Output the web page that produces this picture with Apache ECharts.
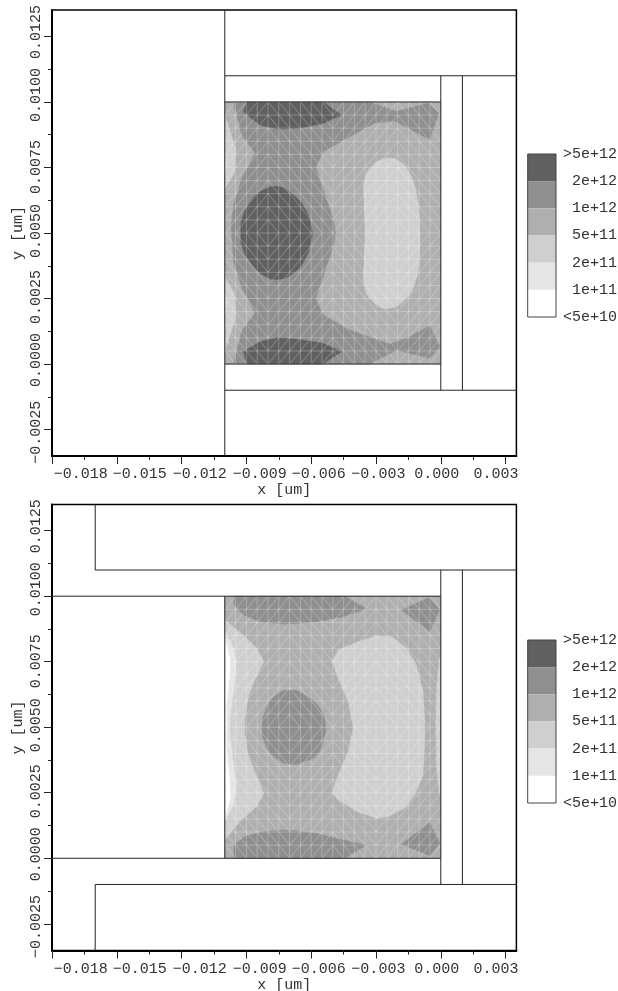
<!DOCTYPE html>
<html><head><meta charset="utf-8">
<style>html,body{margin:0;padding:0;background:#fff}#c{width:618px;height:991px}</style>
<script src="https://cdn.jsdelivr.net/npm/echarts@6/dist/echarts.min.js"></script>
</head><body><div id="c"></div>
<script>
// Axis ticks and labels (um)
const xMajorTicks=[-0.018,-0.015,-0.012,-0.009,-0.006,-0.003,0,0.003];
const xMinorTicks=[-0.0165,-0.0135,-0.0105,-0.0075,-0.0045,-0.0015,0.0015];
const xTickLabels=['−0.018','−0.015','−0.012','−0.009','−0.006','−0.003','0.000','0.003'];
const xLabelCenters=[-0.01667,-0.01394,-0.01116,-0.00838,-0.00565,-0.00289,-0.00019,0.00255];
const yMajorTicks=[-0.0025,0,0.0025,0.005,0.0075,0.01,0.0125];
const yMinorTicks=[-0.00125,0.00125,0.00375,0.00625,0.00875,0.01125];
const yTickLabels=['−0.0025','0.0000','0.0025','0.0050','0.0075','0.0100','0.0125'];
const yLabelCenters=[-0.0026,0.00015,0.00256,0.00508,0.00752,0.01027,0.01267];
// Legend
const legendLabels=['>5e+12','2e+12','1e+12','5e+11','2e+11','1e+11','<5e+10'];
const legendColors=['#5f615e','#8f8f8f','#b0aeb0','#cfcfcf','#e5e5e5','#ffffff'];
const [c5e12,c2e12,c1e12,c5e11,c2e11,c1e11]=legendColors;
// Device outlines, in 1e-3 um: [x1,y1,x2,y2]
const structure1=[[-10,-3.51,-10,13.51],[-10,11,3.5,11],[-10,-1,3.5,-1],[-10,10,0,10],[-10,0,0,0],[0,-1,0,11],[1,-1,1,11]];
const structure2=[[-16,11,-16,13.5],[-16,-1,-16,-3.52],[-16,11,3.5,11],[-16,-1,3.5,-1],[-18,10,0,10],[-18,0,0,0],[-10,0,-10,10],[0,-1,0,11],[1,-1,1,11]];
// Mesh
const meshX=[-10,-9.5,-9,-8.5,-8,-7.5,-7,-6.5,-6,-5.5,-5,-4.5,-4,-3.5,-3,-2.5,-2,-1.5,-1,-0.5,0];
const meshY=[0,0.5,1,1.5,2,2.5,3,3.5,4,4.5,5,5.5,6,6.5,7,7.5,8,8.5,9,9.5,10];
const meshCenters1=[-8,-2], meshCenters2=[-7,-3], meshCenterY=5, meshSplitX=-5;
// Contours, plot 1 (top), in 1e-3 um
const p1Base=[[-10,0],[0,0],[0,10],[-10,10]];
const p1Level2=[[-9.6,9.96],[-9.21,8.74],[-8.6,8.05],[-9.21,7.1],[-9.6,6.07],[-9.7,5.3],[-9.68,4.92],[-9.6,3.93],[-9.21,2.9],[-8.6,1.95],[-9.21,1.26],[-9.6,0.04],[-3.29,0],[-2.05,0.53],[-0.51,0.22],[-0.05,0.66],[-0.51,1.46],[-1.59,0.98],[-2.36,0.76],[-4.21,1.3],[-5.45,1.87],[-5.79,2.5],[-4.98,4.48],[-4.86,5],[-4.98,5.52],[-5.79,7.5],[-5.45,8.1],[-4.21,8.68],[-3.05,9.2],[-2.13,9.27],[-0.51,8.56],[-0.09,9.58],[-0.59,9.96],[-2.05,9.64],[-3.29,10]];
const p1LensTop=[[-8.97,10],[-5.45,10],[-4.6,9.5],[-5.45,9.18],[-6.53,9],[-7.53,8.96],[-8.38,9.12],[-9.15,9.63]];
const p1LensBottom=[[-9.15,0.47],[-8.38,0.85],[-7.53,1.02],[-6.53,0.94],[-5.45,0.79],[-4.6,0.47],[-5.45,0],[-8.97,0]];
const p1Oval=[[-7.53,6.77],[-6.84,6.45],[-6.3,5.94],[-5.99,5.24],[-5.99,4.73],[-6.3,3.97],[-6.84,3.46],[-7.53,3.23],[-8.23,3.4],[-8.77,3.84],[-9.15,4.35],[-9.26,5],[-9.15,5.69],[-8.77,6.26],[-8.23,6.64]];
const p1Island=[[-2.44,7.85],[-1.9,7.72],[-1.44,7.28],[-1.13,6.51],[-1,5.62],[-1,3.97],[-1.2,3.08],[-1.59,2.51],[-2.44,2.12],[-3.13,2.38],[-3.52,2.95],[-3.55,3.97],[-3.49,5],[-3.55,6.13],[-3.52,7.02],[-3.13,7.6]];
const p1StripTop=[[-10,9.55],[-9.7,8.75],[-9.5,8.25],[-9.55,7.3],[-9.9,6.8],[-10,6.6]];
const p1StripBottom=[[-10,3.4],[-9.9,3.2],[-9.55,2.7],[-9.5,1.75],[-9.7,1.25],[-10,0.45]];
const p1SliverTop=[[-10,8.1],[-9.9,7.7],[-10,7.1]];
const p1SliverBottom=[[-10,2.9],[-9.9,2.3],[-10,1.9]];
// Contours, plot 2 (bottom)
const p2Base=[[-10,0],[0,0],[0,10],[-10,10]];
const p2Left=[[-10,9.1],[-9.15,8.52],[-8.53,8.02],[-8.19,7.51],[-8.61,6.81],[-8.92,6.11],[-9.07,5.34],[-9.07,4.71],[-8.92,3.94],[-8.61,3.31],[-8.19,2.48],[-8.53,1.97],[-9.31,1.4],[-10,0.7]];
const p2LeftLight=[[-10,8.65],[-9.6,8.02],[-9.46,7.51],[-9.58,6.49],[-9.77,5.34],[-9.77,4.71],[-9.58,3.44],[-9.46,2.8],[-9.6,2.04],[-10,1.4]];
const p2LeftWhite=[[-10,8.4],[-9.75,7.6],[-9.78,7],[-9.92,5.8],[-9.92,4.2],[-9.78,3],[-9.75,2.3],[-10,1.5]];
const p2Island=[[-2.98,8.49],[-2.28,8.46],[-1.59,8.02],[-1.13,7.38],[-0.82,6.36],[-0.74,5.22],[-0.74,4.45],[-0.82,3.18],[-1.2,2.42],[-1.67,1.91],[-2.44,1.59],[-2.98,1.53],[-3.9,1.78],[-4.75,2.23],[-5.03,2.52],[-4.75,3.18],[-4.29,4.07],[-4.06,4.96],[-4.29,5.98],[-4.75,6.87],[-5.03,7.51],[-4.75,7.95],[-3.9,8.24]];
const p2RightStrip=[[-0.08,7.51],[-0.2,6.5],[-0.23,5],[-0.2,3.45],[-0.08,2.54],[0,2.3],[0,7.8]];
const p2LensTop=[[-9.58,10],[-4.44,10],[-3.44,9.52],[-4.52,9.22],[-5.76,9.03],[-7.07,8.93],[-8.38,9.03],[-9.15,9.29],[-9.58,9.67]];
const p2LensBottom=[[-9.58,0],[-9.58,0.51],[-9.07,0.83],[-8.23,1.02],[-7.07,1.08],[-5.76,0.95],[-4.52,0.7],[-3.44,0.51],[-4.44,0]];
const p2CornerTop=[[-0.54,9.95],[-0.05,9.48],[-0.51,8.65],[-1.82,9.48]];
const p2CornerBottom=[[-0.51,1.37],[-0.05,0.57],[-0.51,0.1],[-1.82,0.53]];
const p2Oval=[[-6.99,6.42],[-6.3,6.23],[-5.6,5.73],[-5.34,5.09],[-5.45,4.45],[-5.76,3.94],[-6.3,3.69],[-6.99,3.59],[-7.61,3.82],[-8.07,4.26],[-8.27,4.96],[-8.07,5.73],[-7.61,6.23]];

const regions1=[[p1Base,c1e12],[p1StripTop,c5e11],[p1StripBottom,c5e11],[p1SliverTop,c2e11],[p1SliverBottom,c2e11],[p1Level2,c2e12],[p1LensTop,c5e12],[p1LensBottom,c5e12],[p1Oval,c5e12,0.5],[p1Island,c5e11,0.5]];
const regions2=[[p2Base,c1e12],[p2Left,c5e11],[p2LeftLight,c2e11],[p2LeftWhite,c1e11],[p2Island,c5e11],[p2RightStrip,c5e11],[p2LensTop,c2e12],[p2LensBottom,c2e12],[p2CornerTop,c2e12],[p2CornerBottom,c2e12],[p2Oval,c2e12,0.5]];

const U=1e-3, FONT='"Liberation Mono"', TXT='#333';
function meshSegments(centers){
  const s=[];
  meshX.forEach(x=>s.push([x,meshY[0],x,meshY[meshY.length-1]]));
  meshY.forEach(y=>s.push([meshX[0],y,meshX[meshX.length-1],y]));
  for(let i=0;i<meshX.length-1;i++)for(let j=0;j<meshY.length-1;j++){
    const cx=(meshX[i]+meshX[i+1])/2, cy=(meshY[j]+meshY[j+1])/2;
    const c=cx<meshSplitX?centers[0]:centers[1];
    if((cx-c)*(cy-meshCenterY)>0) s.push([meshX[i],meshY[j+1],meshX[i+1],meshY[j]]);
    else s.push([meshX[i],meshY[j],meshX[i+1],meshY[j+1]]);
  }
  return s;
}
function regionSeries(regions,ax){
  return {type:'custom',xAxisIndex:ax,yAxisIndex:ax,silent:true,clip:false,z:3,
    data:regions.map((r,i)=>[i,0]),
    renderItem:(p,api)=>{const r=regions[api.value(0)];
      return {type:'polygon',shape:{points:r[0].map(q=>api.coord([q[0]*U,q[1]*U])),smooth:r[2]||0},style:{fill:r[1],stroke:r[1],lineWidth:0.4}};}};
}
function segmentSeries(segs,ax,style,z){
  return {type:'custom',xAxisIndex:ax,yAxisIndex:ax,silent:true,clip:false,z:z,
    data:segs.map((s,i)=>[i,0]),
    renderItem:(p,api)=>{const s=segs[api.value(0)],a=api.coord([s[0]*U,s[1]*U]),b=api.coord([s[2]*U,s[3]*U]);
      return {type:'line',shape:{x1:a[0],y1:a[1],x2:b[0],y2:b[1]},style:style};}};
}
function nearest(arr,v){let k=0;arr.forEach((a,i)=>{if(Math.abs(a-v)<Math.abs(arr[k]-v))k=i});return k;}
const txt={fontFamily:FONT,fontSize:15,color:TXT};
function xMain(gi){return {type:'value',gridIndex:gi,min:-0.018,max:0.0035,position:'bottom',splitLine:{show:false},
  axisLine:{show:true,onZero:false,lineStyle:{color:'#000',width:2}},
  axisTick:{show:true,customValues:xMajorTicks,length:8,lineStyle:{color:'#222',width:1}},
  axisLabel:{show:true,customValues:xLabelCenters,margin:11,...txt,formatter:v=>xTickLabels[nearest(xLabelCenters,v)]},
  name:'x [um]',nameLocation:'middle',nameGap:27,nameTextStyle:{...txt}};}
function xMinor(gi){return {type:'value',gridIndex:gi,min:-0.018,max:0.0035,position:'bottom',splitLine:{show:false},
  axisLine:{show:false,onZero:false},axisTick:{show:true,customValues:xMinorTicks,length:4,lineStyle:{color:'#222',width:1}},axisLabel:{show:false}};}
function yMain(gi,mn,mx){return {type:'value',gridIndex:gi,min:mn,max:mx,position:'left',splitLine:{show:false},
  axisLine:{show:true,onZero:false,lineStyle:{color:'#000',width:2}},
  axisTick:{show:true,customValues:yMajorTicks,length:8,lineStyle:{color:'#222',width:1}},
  axisLabel:{show:true,customValues:yLabelCenters,rotate:90,margin:8,...txt,formatter:v=>yTickLabels[nearest(yLabelCenters,v)]},
  name:'y [um]',nameLocation:'middle',nameGap:26,nameRotate:90,nameMoveOverlap:false,nameTextStyle:{...txt}};}
function yMinor(gi,mn,mx){return {type:'value',gridIndex:gi,min:mn,max:mx,position:'left',splitLine:{show:false},
  axisLine:{show:false,onZero:false},axisTick:{show:true,customValues:yMinorTicks,length:4,lineStyle:{color:'#222',width:1}},axisLabel:{show:false}};}
const yRange1=[-0.00351,0.01351], yRange2=[-0.00352,0.0135];
const legendValues=[6,5,4,3,2,1,0];
function legendX(gi){return {type:'value',gridIndex:gi,min:0,max:1,show:false};}
function legendY(gi){return {type:'value',gridIndex:gi,min:0,max:6,position:'right',splitLine:{show:false},
  axisLine:{show:false},axisTick:{show:false},
  axisLabel:{show:true,customValues:legendValues,margin:61,align:'right',...txt,formatter:v=>legendLabels[legendValues.indexOf(v)]}};}
function legendSeries(ax){return [
  {type:'custom',xAxisIndex:ax,yAxisIndex:ax,silent:true,clip:false,z:3,data:legendColors.map((c,i)=>[i,0]),
   renderItem:(p,api)=>{const i=api.value(0),a=api.coord([0,6-i]),b=api.coord([1,5-i]);
     return {type:'rect',shape:{x:a[0],y:a[1],width:b[0]-a[0],height:b[1]-a[1]},style:{fill:legendColors[i]}};}},
  {type:'custom',xAxisIndex:ax,yAxisIndex:ax,silent:true,clip:false,z:4,data:[[0,0]],
   renderItem:(p,api)=>{const a=api.coord([0,6]),b=api.coord([1,0]);
     return {type:'rect',shape:{x:a[0],y:a[1],width:b[0]-a[0],height:b[1]-a[1]},style:{fill:'none',stroke:'#444',lineWidth:1}};}}
];}
const chart=echarts.init(document.getElementById('c'),null,{renderer:'canvas'});
const structStyle={stroke:'#222',lineWidth:1};
const meshStyle={stroke:'rgba(255,255,255,0.27)',lineWidth:1};
const frame={show:true,backgroundColor:'#fff',borderColor:'#000',borderWidth:1.5,outerBoundsMode:'none'};
chart.setOption({animation:false,backgroundColor:'#fff',
  grid:[
    {left:52,top:10,width:464.4,height:446,...frame},
    {left:52,top:504.5,width:464.4,height:446,...frame},
    {left:527.7,top:154,width:28.3,height:163,show:false,outerBoundsMode:'none'},
    {left:527.7,top:640,width:28.3,height:163,show:false,outerBoundsMode:'none'}],
  xAxis:[xMain(0),xMinor(0),xMain(1),xMinor(1),legendX(2),legendX(3)],
  yAxis:[yMain(0,...yRange1),yMinor(0,...yRange1),yMain(1,...yRange2),yMinor(1,...yRange2),legendY(2),legendY(3)],
  series:[
    regionSeries(regions1,0),segmentSeries(meshSegments(meshCenters1),0,meshStyle,4),segmentSeries(structure1,0,structStyle,5),
    regionSeries(regions2,2),segmentSeries(meshSegments(meshCenters2),2,meshStyle,4),segmentSeries(structure2,2,structStyle,5),
    ...legendSeries(4),...legendSeries(5)]
});
</script></body></html>
